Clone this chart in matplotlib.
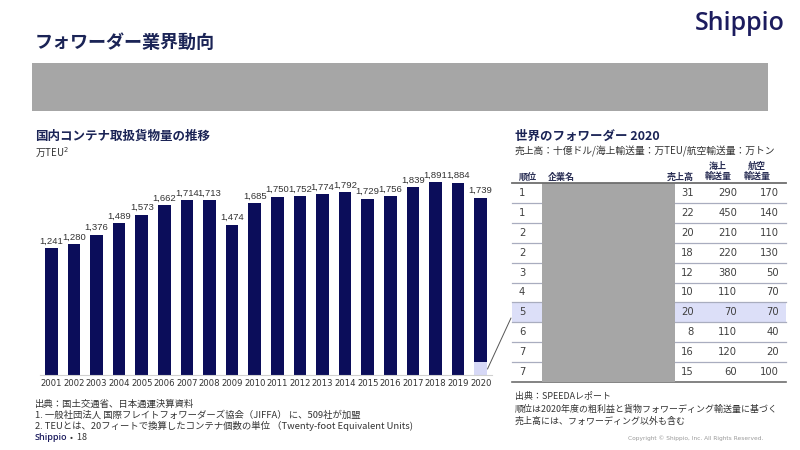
import matplotlib
matplotlib.use("Agg")
import matplotlib.pyplot as plt
from matplotlib.patches import Rectangle, ConnectionPatch

plt.rcParams['font.family'] = ['Noto Sans CJK JP', 'DejaVu Sans']

# ---------------- data ----------------
years = [str(y) for y in range(2001, 2021)]
teu = [1241, 1280, 1376, 1489, 1573, 1662, 1714, 1713, 1474, 1685,
       1750, 1752, 1774, 1792, 1729, 1756, 1839, 1891, 1884, 1739]
highlight_2020 = 130  # light segment at the bottom of the 2020 bar

ranks = ["1", "1", "2", "2", "3", "4", "5", "6", "7", "7"]
sales = [31, 22, 20, 18, 12, 10, 20, 8, 16, 15]
sea = [290, 450, 210, 220, 380, 110, 70, 110, 120, 60]
air = [170, 140, 110, 130, 50, 70, 70, 40, 20, 100]
highlight_row = 6

NAVY = "#0b0d5a"
TITLE = "#1b2456"
LIGHT = "#d6d8f6"
TXT = "#404040"

W, H = 800, 450
fig = plt.figure(figsize=(8, 4.5), dpi=100)
fig.patch.set_facecolor("white")

# overlay axes in pixel coordinates
ov = fig.add_axes([0, 0, 1, 1], zorder=0)
ov.set_xlim(0, W)
ov.set_ylim(H, 0)
ov.axis("off")

# header
ov.text(35, 42, "フォワーダー業界動向", fontsize=13, fontweight="bold",
        color=TITLE, va="center", ha="left")
ov.text(785, 24, "Shippio", family="Open Sans", fontsize=18, fontweight="semibold",
        color="#1c1c5e", va="center", ha="right")
ov.add_patch(Rectangle((32, 63), 736, 48, facecolor="#a6a6a6", edgecolor="none"))

# left section titles
ov.text(35, 136, "国内コンテナ取扱貨物量の推移", fontsize=9, fontweight="bold",
        color=TITLE, va="center")
ov.text(35, 152, "万TEU$^2$", fontsize=7, color="#333333", va="center")

# left footnotes
fn = 6.75
ov.text(35, 404, "出典：国土交通省、日本通運決算資料", fontsize=fn, color="#333333", va="center")
ov.text(35, 415, "1. 一般社団法人 国際フレイトフォワーダーズ協会（JIFFA） に、509社が加盟",
        fontsize=fn, color="#333333", va="center")
ov.text(35, 426, "2. TEUとは、20フィートで換算したコンテナ個数の単位 （Twenty-foot Equivalent Units)",
        fontsize=fn, color="#333333", va="center")
ov.text(35, 438, "Shippio", family="Open Sans", fontsize=6.5, fontweight="semibold",
        color="#1c1c5e", va="center")
ov.text(70, 438, "•  18", fontsize=6.5, color="#333333", va="center")

# right section
ov.text(515, 136, "世界のフォワーダー 2020", fontsize=9, fontweight="bold",
        color=TITLE, va="center")
ov.text(515, 151, "売上高：十億ドル/海上輸送量：万TEU/航空輸送量：万トン",
        fontsize=7.05, color="#333333", va="center")

tx0, tx1 = 512, 786
row_top, row_h = 183, 19.9
col_rank, col_name = 519, 548
col_sales, col_sea, col_air = 694, 737, 779

# highlighted row
ov.add_patch(Rectangle((tx0, row_top + highlight_row * row_h), tx1 - tx0, row_h,
                       facecolor="#dcdff8", edgecolor="none", zorder=1))
# company name block (masked)
ov.add_patch(Rectangle((542, row_top), 133, row_h * len(ranks),
                       facecolor="#a6a6a6", edgecolor="none", zorder=2))

hdr_kw = dict(fontsize=6.5, fontweight="bold", color="#2a2f55", va="center")
ov.text(col_rank, 177, "順位", ha="left", **hdr_kw)
ov.text(col_name, 177, "企業名", ha="left", **hdr_kw)
ov.text(col_sales, 177, "売上高", ha="right", **hdr_kw)
ov.text(718, 171.5, "海上\n輸送量", ha="center", linespacing=1.15, **hdr_kw)
ov.text(757, 171.5, "航空\n輸送量", ha="center", linespacing=1.15, **hdr_kw)
ov.plot([tx0, tx1], [row_top, row_top], color="#6e6e6e", lw=1.3, zorder=3)

for i, (r, s, se, a) in enumerate(zip(ranks, sales, sea, air)):
    yc = row_top + (i + 0.5) * row_h
    kw = dict(fontsize=7.2, family="DejaVu Sans", color=TXT, va="center", zorder=3)
    ov.text(col_rank, yc, r, ha="left", **kw)
    ov.text(col_sales, yc, str(s), ha="right", **kw)
    ov.text(col_sea, yc, str(se), ha="right", **kw)
    ov.text(col_air, yc, str(a), ha="right", **kw)
    yl = row_top + (i + 1) * row_h
    last = i == len(ranks) - 1
    ov.plot([tx0, tx1], [yl, yl], color="#6e6e6e" if last else "#a9adbf",
            lw=1.2 if last else 0.9, zorder=1.5)

rf = 6.45
ov.text(515, 397, "出典：SPEEDAレポート", fontsize=rf, color="#333333", va="center")
ov.text(515, 409, "順位は2020年度の粗利益と貨物フォワーディング輸送量に基づく",
        fontsize=rf, color="#333333", va="center")
ov.text(515, 421, "売上高には、フォワーディング以外も含む", fontsize=rf,
        color="#333333", va="center")
ov.text(763, 438, "Copyright © Shippio, Inc. All Rights Reserved.", family="DejaVu Sans",
        fontsize=4.2, color="#9a9a9a", va="center", ha="right")

# ---------------- bar chart ----------------
bx0, bx1, by0, by1 = 40, 492, 160, 375
ax = fig.add_axes([bx0 / W, 1 - by1 / H, (bx1 - bx0) / W, (by1 - by0) / H], zorder=1)
ax.patch.set_alpha(0)
x = list(range(len(years)))
dark = teu[:-1] + [teu[-1] - highlight_2020]
bottoms = [0] * (len(years) - 1) + [highlight_2020]
ax.bar(x, dark, bottom=bottoms, width=0.55, color=NAVY)
ax.bar([x[-1]], [highlight_2020], width=0.55, color=LIGHT)
ymax = 2108
ax.set_ylim(0, ymax)
ax.set_xlim(-0.5, len(years) - 0.5)
for xi, v in zip(x, teu):
    ax.text(xi, v + 25, f"{v:,}", ha="center", va="bottom", fontsize=6.8,
            family="Liberation Sans", color="#333333")
ax.set_xticks(x)
ax.set_xticklabels(years, fontsize=6.1, family="DejaVu Sans", color="#333333")
ax.tick_params(axis="x", length=0, pad=3)
ax.set_yticks([])
for s in ["top", "left", "right"]:
    ax.spines[s].set_visible(False)
ax.spines["bottom"].set_color("#d0d0d0")
ax.spines["bottom"].set_linewidth(0.8)

# connector from 2020 highlight to the table row
con = ConnectionPatch(xyA=(x[-1] + 0.3, highlight_2020 * 0.45), coordsA=ax.transData,
                      xyB=(511, 318), coordsB=ov.transData,
                      color="#555555", lw=0.7, zorder=5)
fig.add_artist(con)

fig.savefig("out.png", dpi=100, facecolor="white")
